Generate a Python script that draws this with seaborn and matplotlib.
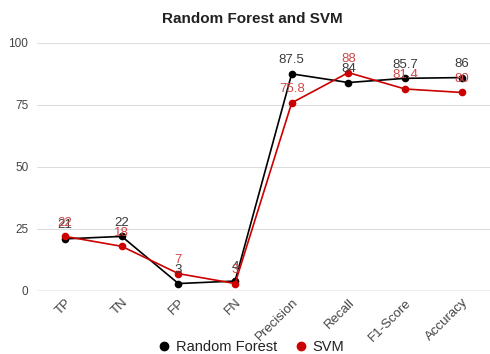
import matplotlib
matplotlib.use("Agg")
import matplotlib.pyplot as plt
import seaborn as sns
import pandas as pd

metrics = ["TP", "TN", "FP", "FN", "Precision", "Recall", "F1-Score", "Accuracy"]
rf_values = [21, 22, 3, 4, 87.5, 84, 85.7, 86]
svm_values = [22, 18, 7, 3, 75.8, 88, 81.4, 80]
rf_labels = ["21", "22", "3", "4", "87.5", "84", "85.7", "86"]
svm_labels = ["22", "18", "7", "3", "75.8", "88", "81.4", "80"]
y_ticks = [0, 25, 50, 75, 100]

sns.set_theme(style="white")
plt.rcParams["font.family"] = ["Liberation Sans", "DejaVu Sans"]

df = pd.DataFrame({
    "metric": metrics * 2,
    "value": rf_values + svm_values,
    "model": ["Random Forest"] * len(metrics) + ["SVM"] * len(metrics),
})
palette = {"Random Forest": "#000000", "SVM": "#cc0000"}

fig = plt.figure(figsize=(4.9, 3.54), dpi=100)
ax = fig.add_axes([0.075, 0.178, 0.925, 0.701])

sns.lineplot(data=df, x="metric", y="value", hue="model", palette=palette,
             marker="o", markersize=5.5, markeredgewidth=0, linewidth=1.2,
             sort=False, ax=ax, legend=False)

ax.set_xlim(-0.5, len(metrics) - 0.5)
ax.set_ylim(0, 100)
ax.set_yticks(y_ticks)
ax.yaxis.grid(True, color="#dddddd", linewidth=0.8)
ax.axhline(0, color="#bbbbbb", linewidth=1.0, zorder=1)
for s in ax.spines.values():
    s.set_visible(False)
ax.set_xlabel("")
ax.set_ylabel("")
ax.tick_params(axis="y", length=0, labelsize=8.5, colors="#444444", pad=6)
ax.tick_params(axis="x", length=0, labelsize=9.5, colors="#444444", pad=4)
plt.setp(ax.get_xticklabels(), rotation=45, ha="right", rotation_mode="anchor")

for i, (v, t) in enumerate(zip(rf_values, rf_labels)):
    ax.annotate(t, (i, v), xytext=(0, 5.5), textcoords="offset points",
                ha="center", va="bottom", fontsize=9.5, color="#3a3a3a")
for i, (v, t) in enumerate(zip(svm_values, svm_labels)):
    ax.annotate(t, (i, v), xytext=(0, 5.5), textcoords="offset points",
                ha="center", va="bottom", fontsize=9.5, color="#d04848")

fig.suptitle("Random Forest and SVM", x=0.515, y=0.965, fontsize=11,
             fontweight="bold", color="#222222")

handles = [plt.Line2D([], [], marker="o", linestyle="", color=c, markersize=6)
           for c in palette.values()]
fig.legend(handles, list(palette.keys()), loc="center", bbox_to_anchor=(0.51, 0.02),
           ncol=2, frameon=False, fontsize=10.5, handletextpad=0.2, columnspacing=1.0,
           handlelength=1.2, labelcolor="#222222", borderpad=0)

fig.savefig("out.png", dpi=100, facecolor="white")
